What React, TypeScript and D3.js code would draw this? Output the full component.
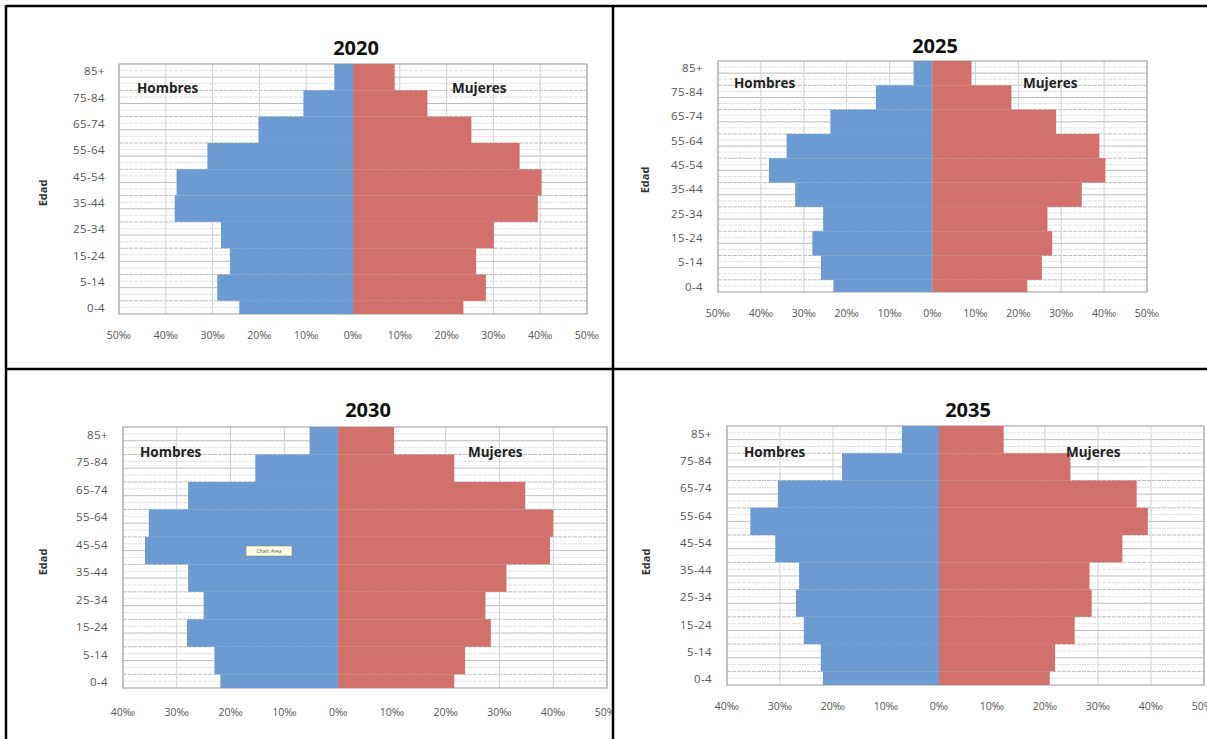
import React from 'react';
import * as d3 from 'd3';

// age groups, bottom to top
const ageGroups = ['0-4', '5-14', '15-24', '25-34', '35-44', '45-54', '55-64', '65-74', '75-84', '85+'];
const ageStart = [0, 5, 15, 25, 35, 45, 55, 65, 75, 85];
const ageEnd = [5, 15, 25, 35, 45, 55, 65, 75, 85, 95];

// per mille of population
const hombres2020 = [24.3, 29.0, 26.3, 28.2, 38.1, 37.7, 31.1, 20.2, 10.6, 4.0];
const mujeres2020 = [23.6, 28.4, 26.3, 30.1, 39.5, 40.3, 35.6, 25.3, 15.9, 8.9];
const hombres2025 = [23.1, 26.0, 28.0, 25.5, 32.0, 38.1, 34.0, 23.8, 13.2, 4.4];
const mujeres2025 = [22.1, 25.5, 27.9, 26.8, 34.8, 40.3, 38.9, 28.8, 18.4, 9.1];
const hombres2030 = [21.9, 23.0, 28.1, 25.0, 27.9, 35.9, 35.2, 27.9, 15.4, 5.3];
const mujeres2030 = [21.6, 23.6, 28.4, 27.4, 31.3, 39.4, 40.0, 34.8, 21.6, 10.4];
const hombres2035 = [21.9, 22.3, 25.5, 27.0, 26.4, 30.9, 35.6, 30.4, 18.3, 7.0];
const mujeres2035 = [20.9, 21.9, 25.6, 28.8, 28.4, 34.6, 39.4, 37.3, 24.8, 12.2];

const ticksWide = [-50, -40, -30, -20, -10, 0, 10, 20, 30, 40, 50];
const ticksNarrow = [-40, -30, -20, -10, 0, 10, 20, 30, 40, 50];

const BLUE = '#6b9bd0';
const RED = '#d2716c';
const FONT = "'Open Sans', 'DejaVu Sans', sans-serif";

const panels = [
  { year: '2020', hombres: hombres2020, mujeres: mujeres2020, ticks: ticksWide, clip: 'c1',
    left: 119, right: 587, top: 64, bottom: 314, titleX: 356, titleY: 55,
    homX: 137, mujX: 452, sexY: 93, labelX: 105, edadX: 44, edadY: 193, tickY: 336 },
  { year: '2025', hombres: hombres2025, mujeres: mujeres2025, ticks: ticksWide, clip: 'c2',
    left: 718, right: 1147, top: 61, bottom: 292, titleX: 935, titleY: 53,
    homX: 734, mujX: 1023, sexY: 88, labelX: 703, edadX: 646, edadY: 180, tickY: 314 },
  { year: '2030', hombres: hombres2030, mujeres: mujeres2030, ticks: ticksNarrow, clip: 'c3',
    left: 123, right: 607, top: 427, bottom: 688, titleX: 368, titleY: 417,
    homX: 140, mujX: 468, sexY: 457, labelX: 108, edadX: 44, edadY: 562, tickY: 713 },
  { year: '2035', hombres: hombres2035, mujeres: mujeres2035, ticks: ticksNarrow, clip: 'c4',
    left: 727, right: 1204, top: 426, bottom: 685, titleX: 968, titleY: 417,
    homX: 744, mujX: 1066, sexY: 457, labelX: 712, edadX: 647, edadY: 562, tickY: 707 },
];

// table cells, used to cut each chart at its cell border
const cells = {
  c1: [7, 7, 605, 361],
  c2: [614, 7, 593, 361],
  c3: [7, 370, 605, 369],
  c4: [614, 370, 593, 369],
};

const Panel = ({ p }) => {
  const x = d3.scaleLinear().domain([p.ticks[0], p.ticks[p.ticks.length - 1]]).range([p.left, p.right]);
  const y = d3.scaleLinear().domain([0, 95]).range([p.bottom, p.top]);
  const grid = d3.range(2.5, 95, 2.5);

  return (
    <g clipPath={`url(#${p.clip})`}>
      <text x={p.titleX} y={p.titleY} textAnchor="middle" fontFamily={FONT} fontWeight="bold" fontSize={20} fill="#111">
        {p.year}
      </text>

      {/* grid */}
      {grid.map((a) => (
        <line key={'h' + a} x1={p.left} x2={p.right} y1={y(a)} y2={y(a)}
          stroke={a % 5 === 0 ? '#bdbdbd' : '#e0e0e0'} strokeWidth={1}
          strokeDasharray={a % 10 === 0 ? null : '4 1'} />
      ))}
      {p.ticks.map((t) => (
        <line key={'v' + t} x1={x(t)} x2={x(t)} y1={p.top} y2={p.bottom} stroke="#d0d0d0" strokeWidth={1} />
      ))}
      <rect x={p.left} y={p.top} width={p.right - p.left} height={p.bottom - p.top}
        fill="none" stroke="#a8a8a8" strokeWidth={1.2} />

      {/* bars */}
      {ageGroups.map((g, i) => (
        <g key={g}>
          <rect x={x(-p.hombres[i])} y={y(ageEnd[i])} width={x(0) - x(-p.hombres[i])}
            height={y(ageStart[i]) - y(ageEnd[i])} fill={BLUE} />
          <rect x={x(0)} y={y(ageEnd[i])} width={x(p.mujeres[i]) - x(0)}
            height={y(ageStart[i]) - y(ageEnd[i])} fill={RED} />
        </g>
      ))}

      {/* age labels */}
      {ageGroups.map((g, i) => (
        <text key={'l' + g} x={p.labelX} y={y(i * 10 + 1.8)} textAnchor="end" dominantBaseline="middle"
          fontFamily={FONT} fontSize={11.5} letterSpacing={0.4} fill="#555">
          {g}
        </text>
      ))}

      {/* x ticks */}
      {p.ticks.map((t) => (
        <text key={'t' + t} x={x(t)} y={p.tickY} textAnchor="middle" dominantBaseline="middle"
          fontFamily={FONT} fontSize={10.5} fill="#555">
          {Math.abs(t) + '‰'}
        </text>
      ))}

      <text x={p.homX} y={p.sexY} fontFamily={FONT} fontWeight="bold" fontSize={13.5} fill="#222">Hombres</text>
      <text x={p.mujX} y={p.sexY} fontFamily={FONT} fontWeight="bold" fontSize={13.5} fill="#222">Mujeres</text>

      <text transform={`translate(${p.edadX},${p.edadY}) rotate(-90)`} textAnchor="middle" dominantBaseline="middle"
        fontFamily={FONT} fontWeight="bold" fontSize={11} fill="#333">
        Edad
      </text>
    </g>
  );
};

const App = () => {
  return (
    <svg width={1207} height={739} style={{ position: 'absolute', left: 0, top: 0, background: '#fff' }}>
      <defs>
        {Object.entries(cells).map(([id, c]) => (
          <clipPath key={id} id={id}>
            <rect x={c[0]} y={c[1]} width={c[2]} height={c[3]} />
          </clipPath>
        ))}
      </defs>
      <rect width={1207} height={739} fill="#fff" />
      {panels.map((p) => (
        <Panel key={p.year} p={p} />
      ))}

      {/* Chart Area tooltip left in the 2030 panel */}
      <rect x={246} y={546} width={46} height={10} fill="#ffffe1" stroke="#888" strokeWidth={0.6} />
      <text x={269} y={551.5} textAnchor="middle" dominantBaseline="middle" fontFamily={FONT} fontSize={5} fill="#555">
        Chart Area
      </text>

      {/* table borders */}
      <g stroke="#000" strokeWidth={2.5}>
        <line x1={6} x2={1207} y1={6} y2={6} />
        <line x1={6} x2={6} y1={5} y2={739} />
        <line x1={613} x2={613} y1={5} y2={739} />
        <line x1={6} x2={1207} y1={369} y2={369} />
      </g>
    </svg>
  );
};

export default App;
